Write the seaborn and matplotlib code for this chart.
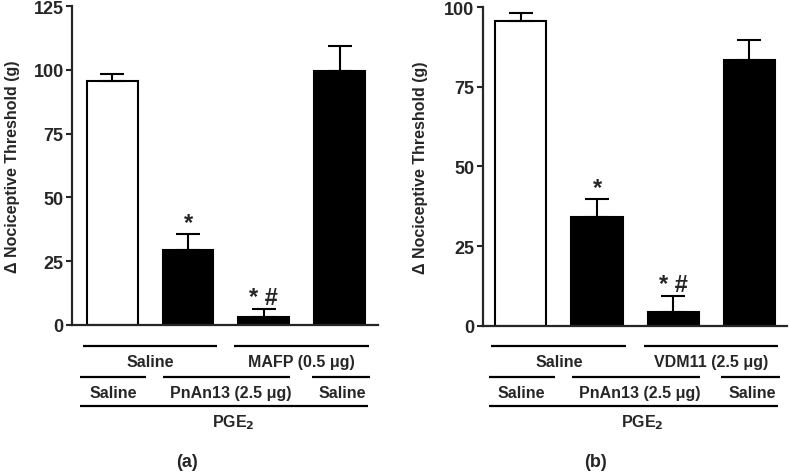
import numpy as np
import pandas as pd
import seaborn as sns
import matplotlib
matplotlib.use('Agg')
import matplotlib.pyplot as plt
from matplotlib import transforms

# Data (mean and upper error, g)
groups = ['Saline', 'PnAn13', 'PnAn13 + drug', 'drug']
mean_a = [95.5, 29.5, 3.0, 99.5]
sem_a = [2.7, 6.3, 3.3, 10.0]
mean_b = [95.6, 34.0, 4.2, 83.4]
sem_b = [2.7, 5.8, 5.2, 6.4]
marks = ['', '*', '* #', '']
bar_colors = ['white', 'black', 'black', 'black']

drug_a = 'MAFP (0.5 \u03bcg)'
drug_b = 'VDM11 (2.5 \u03bcg)'
pnan_label = 'PnAn13 (2.5 \u03bcg)'

sns.set_style('ticks')
plt.rcParams['font.family'] = ['Liberation Sans', 'DejaVu Sans']
plt.rcParams['font.weight'] = 'bold'
plt.rcParams['axes.labelweight'] = 'bold'

fig = plt.figure(figsize=(7.9, 4.77), dpi=100)
ax_a = fig.add_axes([0.0911, 0.3166, 0.387, 0.6687])
ax_b = fig.add_axes([0.611, 0.315, 0.385, 0.668])


def draw_panel(ax, means, sems, ymax, xlim, drug, letter, label_x):
    df = pd.DataFrame({'group': groups, 'value': means})
    sns.barplot(data=df, x='group', y='value', hue='group', palette=bar_colors,
                edgecolor='black', linewidth=1.5, width=0.67, errorbar=None,
                legend=False, ax=ax)
    x = np.arange(len(groups))
    ax.errorbar(x, means, yerr=[np.zeros(len(means)), sems], fmt='none',
                ecolor='black', elinewidth=1.5, capsize=8.5, capthick=1.5, zorder=1)
    for xi, m, s, t in zip(x, means, sems, marks):
        if t:
            ax.annotate(t, (xi, m + s), xytext=(0, 0), textcoords='offset points',
                        ha='center', va='bottom', fontsize=17, fontweight='bold')

    ax.set_ylim(0, ymax)
    ax.set_xlim(*xlim)
    ax.set_yticks(np.arange(0, ymax + 1, 25))
    ax.set_xticks([])
    ax.set_xlabel('')
    ax.set_ylabel('\u0394 Nociceptive Threshold (g)', fontsize=11.5, fontweight='bold')
    ax.yaxis.set_label_coords(label_x, 0.5)
    sns.despine(ax=ax)
    for sp in ['left', 'bottom']:
        ax.spines[sp].set_linewidth(1.6)
    ax.tick_params(axis='y', direction='out', length=4, width=1.5, labelsize=13, pad=2)
    for lbl in ax.get_yticklabels():
        lbl.set_fontweight('bold')

    # treatment rows under the bars
    tr = transforms.blended_transform_factory(ax.transData, fig.transFigure)
    rows = [
        (0.2725, 0.239, [('Saline', -0.39, 1.38, 0.5), (drug, 1.61, 3.38, 2.5)]),
        (0.2075, 0.176, [('Saline', -0.42, 0.45, 0.01), (pnan_label, 0.67, 2.35, 1.56),
                         ('Saline', 2.63, 3.4, 3.03)]),
        (0.1467, 0.113, [('PGE$_\\mathbf{2}$', -0.42, 3.37, 1.6)]),
    ]
    for ly, ty, items in rows:
        for text, x0, x1, xt in items:
            ax.plot([x0, x1], [ly, ly], color='black', lw=1.6, transform=tr,
                    clip_on=False, solid_capstyle='butt')
            ax.text(xt, ty, text, transform=tr, ha='center', va='center',
                    fontsize=11.5, fontweight='bold')
    ax.text(0.98, 0.0294, letter, transform=tr, ha='center', va='center',
            fontsize=13, fontweight='bold')


draw_panel(ax_a, mean_a, sem_a, 125, (-0.53, 3.5), drug_a, '(a)', -0.17)
draw_panel(ax_b, mean_b, sem_b, 100, (-0.5, 3.49), drug_b, '(b)', -0.18)

fig.savefig('out.png', dpi=100)
